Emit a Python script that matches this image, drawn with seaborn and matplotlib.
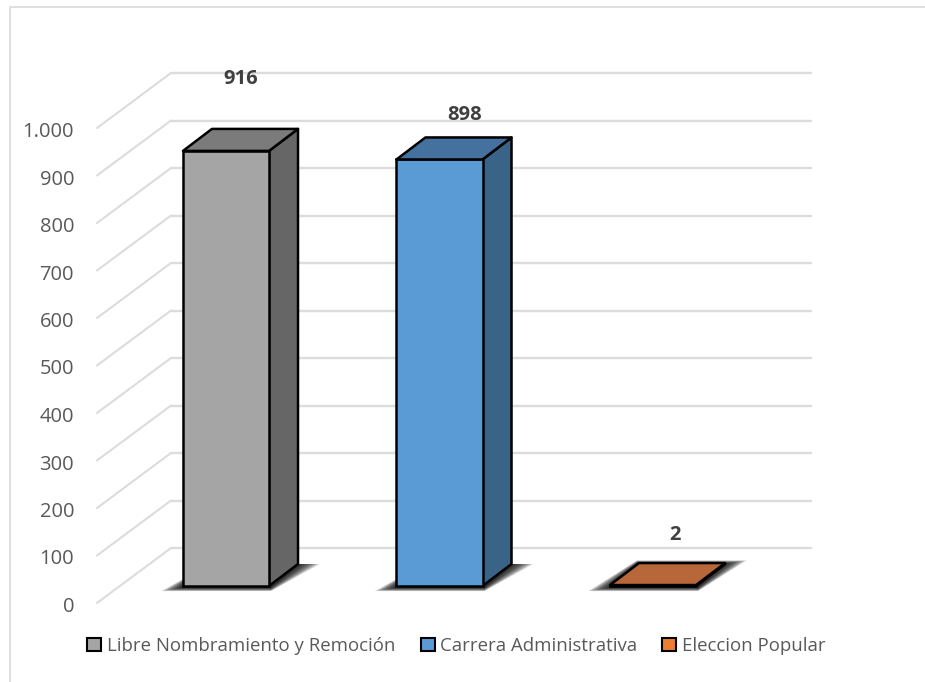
import matplotlib
matplotlib.use("Agg")
import matplotlib.pyplot as plt
from matplotlib.patches import Polygon, Rectangle
from matplotlib.transforms import ScaledTranslation
import pandas as pd
import seaborn as sb

categories = ["Libre Nombramiento y Remoción", "Carrera Administrativa", "Eleccion Popular"]
values = [916, 898, 2]
tick_values = [0, 100, 200, 300, 400, 500, 600, 700, 800, 900, 1000]
tick_labels = ["0", "100", "200", "300", "400", "500", "600", "700", "800", "900", "1.000"]

front_colors = ["#A5A5A5", "#5B9BD5", "#B7673A"]
top_colors = ["#7B7B7B", "#44719D", "#B7673A"]
side_colors = ["#666666", "#3A6487", "#8A4E2C"]
legend_colors = ["#A5A5A5", "#5B9BD5", "#ED7D31"]

W, H = 925, 682
sb.set_theme(style="white")
plt.rcParams["font.family"] = ["Open Sans", "DejaVu Sans"]

fig = plt.figure(figsize=(W / 100, H / 100), dpi=100)
# axes box in pixels: x 97-830, y 50-603
ax = fig.add_axes([97 / W, 1 - 603 / H, (830 - 97) / W, (603 - 50) / H])

df = pd.DataFrame({"tipo": categories, "total": values})
sb.barplot(data=df, x="tipo", y="total", hue="tipo", palette=front_colors, width=0.403, saturation=1,
           dodge=False, legend=False, edgecolor="black", linewidth=1.8, ax=ax, zorder=4)

px_x = 1 / 213.5   # category units per pixel
px_y = 1 / 0.475   # value units per pixel
ax.set_xlim(-129 * px_x, (-129 + 733) * px_x)
ax.set_ylim(-17 * px_y, 536 * px_y)

# walls of the fake 3d box
wall_dx = 74 * px_x
wall_dy = 55 * px_y
left = ax.get_xlim()[0]
right = (811 - 226) * px_x
for t in tick_values:
    y0 = t + ax.get_ylim()[0]
    ax.plot([left, left + wall_dx], [y0, y0 + wall_dy], color="#DCDCDC", lw=1.5, zorder=1, clip_on=False)
    ax.plot([left + wall_dx, right], [y0 + wall_dy, y0 + wall_dy], color="#DCDCDC", lw=1.7, zorder=1, clip_on=False)

# depth of the bars
dx = 29 * px_x
dy = 22 * px_y
for i, bar in enumerate(ax.patches[:3]):
    x0 = bar.get_x()
    x1 = x0 + bar.get_width()
    top = bar.get_height()
    # soft shadow on the floor, stacked polygons fake the blur
    steps = 9
    for k in range(steps):
        g = (steps - k) * 2.4 * px_x
        m = (steps - k) * 0.4 * px_y
        ax.add_patch(Polygon([(x0 - g, -1.5 * px_y - m), (x1 + 2 * px_x, -1.5 * px_y - m),
                              (x1 + dx + g, dy + (m if i == 2 else 0)), (x0 + dx - 2 * px_x, dy + (m if i == 2 else 0))],
                             closed=True, fc="black", ec="none", alpha=0.17, zorder=2))
    ax.add_patch(Polygon([(x1, 0), (x1 + dx, dy), (x1 + dx, top + dy), (x1, top)], closed=True,
                         fc=side_colors[i], ec="black", lw=1.8, joinstyle="round", zorder=3))
    ax.add_patch(Polygon([(x0, top), (x0 + dx, top + dy), (x1 + dx, top + dy), (x1, top)], closed=True,
                         fc=top_colors[i], ec="black", lw=1.8, joinstyle="round", zorder=5))

# value labels sit up and to the right of each bar
offsets = [(15, 72), (25, 44), (22, 50)]
for i, v in enumerate(values):
    ax.annotate(str(v), xy=(i, v), xytext=(offsets[i][0] * 0.72, offsets[i][1] * 0.72), textcoords="offset points",
                ha="center", va="center", fontsize=14.5, fontweight="bold", color="#404040", zorder=6)

ax.set_yticks([t + ax.get_ylim()[0] for t in tick_values], tick_labels)
ax.set_xticks([])
ax.set_xlabel("")
ax.set_ylabel("")
ax.tick_params(axis="y", length=0, pad=16.5, labelsize=14.5, labelcolor="#595959")
# labels sit a touch lower in the reference
for lab in ax.get_yticklabels():
    lab.set_transform(lab.get_transform() + ScaledTranslation(0, -1.5 / 100, fig.dpi_scale_trans))
sb.despine(ax=ax, left=True, bottom=True)
ax.patch.set_alpha(0)

handles = [Rectangle((0, 0), 1, 1, fc=c, ec="black", lw=1.5) for c in legend_colors]
fig.legend(handles, categories, loc="center", bbox_to_anchor=(456.5 / W, 1 - 646 / H), ncol=3, frameon=False,
           fontsize=13.4, labelcolor="#595959", handlelength=0.75, handleheight=0.75, handletextpad=0.3,
           columnspacing=1.35)

# chart frame
fig.add_artist(Rectangle((10 / W, -0.01), 1, 1 - 7 / H + 0.01, transform=fig.transFigure, fc="none", ec="#D9D9D9", lw=1.2))

fig.savefig("out.png", dpi=100)
